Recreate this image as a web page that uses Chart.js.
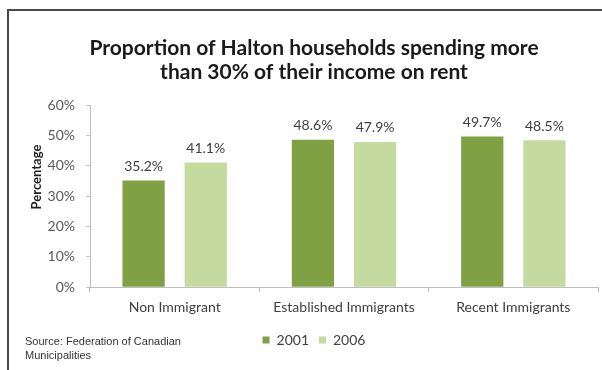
<!DOCTYPE html>
<html>
<head>
<meta charset="utf-8">
<script src="https://cdn.jsdelivr.net/npm/chart.js@4"></script>
<style>
  html, body { margin: 0; padding: 0; background: #fff; }
  #wrap { position: relative; width: 602px; height: 370px; overflow: hidden; }
  #frame { position: absolute; left: 7px; top: 9px; width: 620px; height: 400px;
           border-left: 2px solid #4a4a4a; border-top: 2px solid #4a4a4a; }
  canvas { position: absolute; left: 0; top: 0; }
</style>
</head>
<body>
<div id="wrap">
  <div id="frame"></div>
  <canvas id="rentChart" width="602" height="370"></canvas>
</div>
<script>
const categories = ['Non Immigrant', 'Established Immigrants', 'Recent Immigrants'];
const years = ['2001', '2006'];
const share2001 = [35.2, 48.6, 49.7];
const share2006 = [41.1, 47.9, 48.5];
const yTicks = [0, 10, 20, 30, 40, 50, 60];

const FONT = 'Lato, "Open Sans", sans-serif';

// value labels above each bar
const barValues = {
  id: 'barValues',
  afterDatasetsDraw(chart) {
    const ctx = chart.ctx;
    ctx.save();
    ctx.font = '14px ' + FONT;
    ctx.fillStyle = '#404040';
    ctx.textAlign = 'center';
    ctx.textBaseline = 'bottom';
    chart.data.datasets.forEach((ds, i) => {
      chart.getDatasetMeta(i).data.forEach((bar, j) => {
        ctx.fillText(ds.data[j].toFixed(1) + '%', bar.x, bar.y - 7);
      });
    });
    ctx.restore();
  }
};

// y axis caption and source note
const extraText = {
  id: 'extraText',
  afterDraw(chart) {
    const ctx = chart.ctx;
    ctx.save();
    ctx.translate(37, 177);
    ctx.rotate(-Math.PI / 2);
    ctx.font = 'bold 13px ' + FONT;
    ctx.fillStyle = '#1f1f1f';
    ctx.textAlign = 'center';
    ctx.textBaseline = 'middle';
    ctx.fillText('Percentage', 0, 0);
    ctx.restore();

    ctx.save();
    ctx.font = '11px "Liberation Sans", Arial, sans-serif';
    ctx.fillStyle = '#333';
    ctx.textBaseline = 'middle';
    ctx.fillText('Source: Federation of Canadian', 25, 342);
    ctx.fillText('Municipalities', 25, 356);
    ctx.restore();
  }
};

new Chart(document.getElementById('rentChart'), {
  type: 'bar',
  data: {
    labels: categories,
    datasets: [
      { label: years[0], data: share2001, backgroundColor: '#80a044' },
      { label: years[1], data: share2006, backgroundColor: '#c5da9f' }
    ]
  },
  options: {
    responsive: false,
    animation: false,
    categoryPercentage: 0.734,
    barPercentage: 0.68,
    layout: { padding: { left: 30, right: 4, top: 0, bottom: 13 } },
    plugins: {
      title: {
        display: true,
        text: ['Proportion of Halton households spending more', 'than 30% of their income on rent'],
        font: { family: FONT, size: 21, weight: 'bold', lineHeight: 1.15 },
        color: '#1a1a1a',
        padding: { top: 36, bottom: 21 }
      },
      legend: {
        position: 'bottom',
        labels: {
          font: { family: FONT, size: 14 },
          color: '#404040',
          boxWidth: 7,
          boxHeight: 7,
          padding: 10
        }
      },
      tooltip: { enabled: false }
    },
    scales: {
      x: {
        grid: { drawOnChartArea: false, color: '#bfbfbf', tickLength: 5 },
        border: { color: '#bfbfbf' },
        ticks: { font: { family: FONT, size: 14 }, color: '#404040', padding: 7 }
      },
      y: {
        min: 0,
        max: 60,
        afterFit(scale) { scale.width = 60; },
        afterBuildTicks(scale) { scale.ticks = yTicks.map(v => ({ value: v })); },
        grid: { drawOnChartArea: false, color: '#bfbfbf', tickLength: 4 },
        border: { color: '#bfbfbf' },
        ticks: {
          font: { family: FONT, size: 14 },
          color: '#595959',
          padding: 11,
          callback: v => v + '%'
        }
      }
    }
  },
  plugins: [barValues, extraText]
});
</script>
</body>
</html>
